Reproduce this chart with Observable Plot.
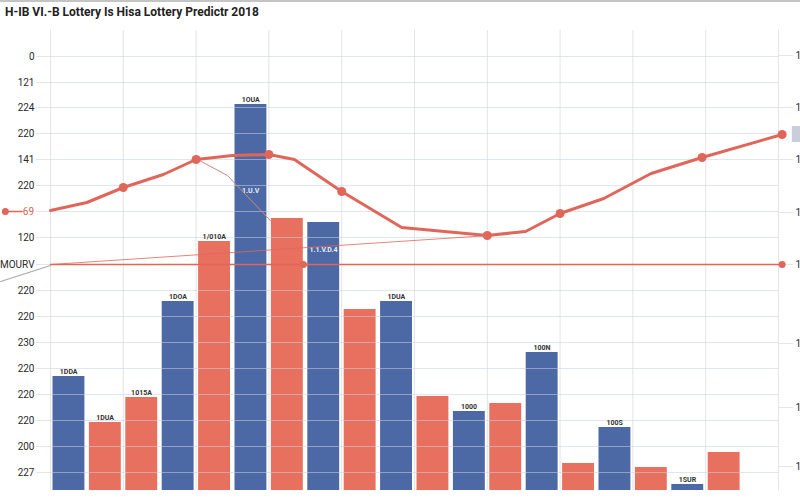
<!DOCTYPE html>
<html><head><meta charset="utf-8">
<script src="https://cdn.jsdelivr.net/npm/d3@7"></script>
<script src="https://cdn.jsdelivr.net/npm/@observablehq/plot@0.6"></script>
<style>
body{margin:0;background:#fff;font-family:Roboto,"Liberation Sans",sans-serif;}
#title{height:24px;border-top:2px solid #c4c4c4;box-sizing:border-box;padding:3px 0 0 5px;font-size:12px;font-weight:700;color:#222;line-height:14px;}
</style></head><body>
<div id="title">H-IB VI.-B Lottery Is Hisa Lottery Predictr 2018</div>
<div id="chart"></div>
<script>
// ---- data ----
const barSeries = ["HIB","Hisa","Hisa","HIB","Hisa","HIB","Hisa","HIB","Hisa","HIB","Hisa","HIB","Hisa","HIB","Hisa","HIB","Hisa","HIB","Hisa"];
const barValues = [114,68,93,189,249,386,272,268,181,189,94,79,87,138,27,63,23,6,38];
const barLabels = ["1DDA","1DUA","1015A","1DOA","1/010A","1OUA","","","","1DUA","","1000","","100N","","100S","","1SUR",""];

const curveX = [0,1,2,3.1,4,5,6,6.7,8,9.65,12,13.05,14,15.2,16.5,17.9,20.1];
const curveY = [280,288,303,316,331,335,336,331,299,263,255,259,277,292,317,333,356];
const curveDot = [0,0,1,0,1,0,1,0,1,0,1,0,1,0,0,1,1];

const ruleLevel = 226;
const ruleDotsX = [6.95, 20.1];

const thinX = [0, 12.06];
const thinY = [226, 255];
const greyX = [-1.37, 0];
const greyY = [209, 225];
const connX = [4.04, 4.86, 6.04];
const connY = [331, 315, 270];

const leftTickValues = [18,44,70,96,122,148,174,200,226,253,279,305,331,357,383,408,434];
const leftTickLabels = ["227","200","220","220","220","230","220","220","MOURV","120","","220","141","220","224","121","0"];
const rightTickValues = [435,383,331,278,226,147,83,24];
const rightTickLabels = ["1","1","1","1","1","1","1","1"];

const inBarText = [{x:5.5,y:300,t:"1.U.V"},{x:7.5,y:241,t:"1.1.V.D.4"}];

// ---- tables ----
const bars = barValues.map((v,i)=>({i, value:v, series:barSeries[i], label:barLabels[i]}));
const curve = curveX.map((x,i)=>({x, y:curveY[i], dot:curveDot[i]}));
const thin = thinX.map((x,i)=>({x, y:thinY[i]}));
const grey = greyX.map((x,i)=>({x, y:greyY[i]}));
const conn = connX.map((x,i)=>({x, y:connY[i]}));
const RED = "#e0665a";

const chart = Plot.plot({
  width: 800, height: 476,
  marginLeft: 50, marginRight: 22, marginTop: 6, marginBottom: 10,
  style: {fontFamily: "Roboto, 'Liberation Sans', sans-serif", background: "#fff", overflow: "visible"},
  x: {type: "linear", domain: [0, 20], axis: null},
  y: {domain: [0, 460]},
  color: {domain: ["HIB","Hisa"], range: ["#4c68a5", "#e8705f"]},
  marks: [
    Plot.ruleX(d3.range(0, 21, 2), {stroke: "#e4e4e4", strokeWidth: 1}),
    Plot.axisY(leftTickValues, {anchor: "left", tickSize: 14, tickPadding: 2, stroke: "#e6e6e6",
      tickFormat: d => leftTickLabels[leftTickValues.indexOf(d)], fontSize: 10, fill: "#2a2a2a", label: null}),
    Plot.axisY(rightTickValues, {anchor: "right", tickSize: 14, tickPadding: 3, stroke: "#e6e6e6",
      tickFormat: d => rightTickLabels[rightTickValues.indexOf(d)], fontSize: 10, fill: "#2a2a2a", label: null}),
    Plot.rectY(bars, {x1: d => d.i, x2: d => d.i + 1, y1: 0, y2: "value", fill: "series", insetLeft: 2.5, insetRight: 2}),
    Plot.ruleY(leftTickValues, {x1: 0, x2: 20, stroke: "#c9d0dd", strokeOpacity: 0.55}),
    Plot.text(bars.filter(d => d.label), {x: d => d.i + 0.5, y: "value", text: "label", dy: -5,
      fontSize: 7, fontWeight: 700, fill: "#333", letterSpacing: 1}),
    Plot.text(inBarText, {x: "x", y: "y", text: "t", fontSize: 7, fill: "#e8ecf5", fontWeight: 700}),
    Plot.line(grey, {x: "x", y: "y", stroke: "#a9a9a9", strokeWidth: 1.2}),
    Plot.line(thin, {x: "x", y: "y", stroke: RED, strokeWidth: 1, strokeOpacity: 0.8}),
    Plot.line(conn, {x: "x", y: "y", stroke: "#c98a85", strokeWidth: 1}),
    Plot.ruleY([ruleLevel], {x1: 0, x2: 20.1, stroke: RED, strokeWidth: 1.5}),
    Plot.dot(ruleDotsX, {x: d => d, y: () => ruleLevel, r: 3.5, fill: RED}),
    Plot.line(curve, {x: "x", y: "y", stroke: RED, strokeWidth: 3, strokeLinejoin: "round"}),
    Plot.dot(curve.filter(d => d.dot), {x: "x", y: "y", r: 4.5, fill: RED}),
    // left marker row "69"
    Plot.line([{x:-1.24,y:279},{x:-0.78,y:279}], {x: "x", y: "y", stroke: RED, strokeWidth: 1.5}),
    Plot.dot([{x:-1.24,y:279}], {x: "x", y: "y", r: 3.5, fill: RED}),
    Plot.text([{x:-0.45,y:279,t:"69"}], {x: "x", y: "y", text: "t", fontSize: 10, fill: "#d0615a", textAnchor: "end"}),
    // clipped tag at right
    Plot.rect([{x1:20.38,x2:20.7,y1:348,y2:364}], {x1:"x1", x2:"x2", y1:"y1", y2:"y2", fill: "#c9cedb"})
  ]
});
document.getElementById("chart").appendChild(chart);
</script>
</body></html>
